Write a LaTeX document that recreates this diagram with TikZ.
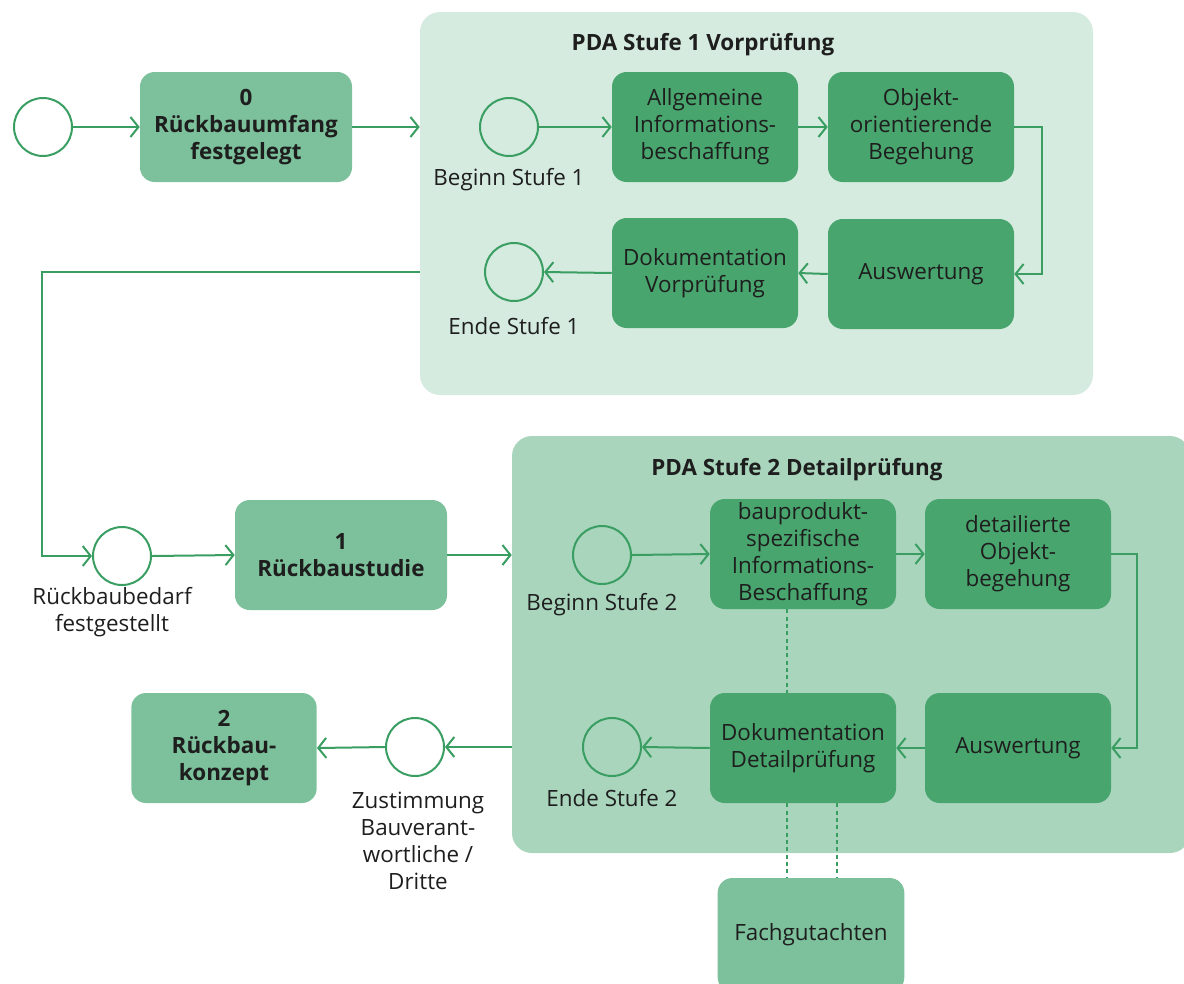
\documentclass[tikz,border=0pt]{standalone}
\usepackage{fontspec}
\setmainfont{Open Sans}
\usetikzlibrary{arrows.meta,positioning}

\definecolor{linegreen}{HTML}{3A9E62}
\definecolor{boxlight}{HTML}{7CC19B}
\definecolor{boxdark}{HTML}{48A56D}
\definecolor{poolone}{HTML}{D5EBDF}
\definecolor{pooltwo}{HTML}{A8D5BC}
\definecolor{inktext}{HTML}{1E1E1E}

\begin{document}
\begin{tikzpicture}[
            x=0.75pt, y=-0.75pt,
            every node/.style={
                text=inktext,
                font=\fontsize{16.8}{20.3}\selectfont
            },
            phase/.style={
                rectangle,
                fill=boxlight,
                rounded corners=11pt,
                minimum width=159pt,
                minimum height=82.5pt,
                align=center,
                font=\fontsize{16.8}{20.3}\selectfont\bfseries
            },
            task/.style={
                rectangle,
                fill=boxdark,
                rounded corners=11pt,
                minimum width=139.5pt,
                minimum height=82.5pt,
                inner sep=1pt,
                align=center
            },
            pool/.style={
                rectangle,
                rounded corners=15pt,
                inner sep=0pt
            },
            event/.style={
                circle,
                draw=linegreen,
                line width=1.5pt,
                minimum size=43.5pt,
                inner sep=0pt
            },
            note/.style={
                align=center
            },
            title/.style={
                font=\fontsize{16.8}{20.3}\selectfont\bfseries
            },
            flow/.style={
                draw=linegreen,
                line width=1.5pt,
                -{Straight Barb[length=6pt,width=15pt,line width=1.5pt]}
            },
            link/.style={
                draw=linegreen,
                line width=1.5pt,
                dash pattern=on 3pt off 2.5pt
            }
        ]
        \useasboundingbox (0,0) rectangle (1184,983);

        % pools
        \node[pool, fill=poolone, minimum width=504.75pt, minimum height=287.25pt] (p1) at (756.5,203.5) {};
        \node[pool, fill=pooltwo, minimum width=508.5pt, minimum height=312.75pt] (p2) at (851,644.5) {};
        \node[title] (t1) at (703,45) {PDA Stufe 1 Vorprüfung};
        \node[title] (t2) at (797,470) {PDA Stufe 2 Detailprüfung};

        % main phases
        \node[event] (start) at (43,127) {};
        \node[phase] (b0) at (246,127) {0\\Rückbauumfang\\festgelegt};
        \node[event] (r1) at (122,556) {};
        \node[note] (r1l) at (112,612) {Rückbaubedarf\\festgestellt};
        \node[phase] (b1) at (341,555) {1\\Rückbaustudie};
        \node[event] (z) at (415,747) {};
        \node[note] (zl) at (418,841) {Zustimmung\\Bauverant-\\wortliche /\\Dritte};
        \node[phase, minimum width=139pt] (b2) at (224,748) {2\\Rückbau-\\konzept};
        \node[phase, font=\fontsize{16.8}{20.3}\selectfont, minimum width=140pt, minimum height=85.5pt] (fg) at (811,935) {Fachgutachten};

        % stage 1
        \node[event] (s1) at (509,127) {};
        \node[note] (s1l) at (509,180) {Beginn Stufe 1};
        \node[task] (ai) at (705,127) {Allgemeine\\Informations-\\beschaffung};
        \node[task] (ob) at (921,127) {Objekt-\\orientierende\\Begehung};
        \node[task] (aw1) at (921,274) {Auswertung};
        \node[task] (dv) at (705,273) {Dokumentation\\Vorprüfung};
        \node[event] (e1) at (514,272) {};
        \node[note] (e1l) at (514,326) {Ende Stufe 1};

        % stage 2
        \node[event] (s2) at (602,555) {};
        \node[note] (s2l) at (602,605) {Beginn Stufe 2};
        \node[task] (bi) at (803,554) {bauprodukt-\\spezifische\\Informations-\\Beschaffung};
        \node[task] (db) at (1018,554) {detailierte\\Objekt-\\begehung};
        \node[task] (aw2) at (1018,748) {Auswertung};
        \node[task] (dd) at (803,748) {Dokumentation\\Detailprüfung};
        \node[event] (e2) at (612,747) {};
        \node[note] (e2l) at (612,798) {Ende Stufe 2};

        % lines
        \coordinate (knee) at (42,556);
        \draw[flow] (start.east) -- (b0.west);
        \draw[flow] (b0.east) -- (b0.east -| p1.west);
        \draw[flow] (s1.east) -- (ai.west);
        \draw[flow] (ai.east) -- (ob.west);
        \draw[flow] (ob.east) -- ++(28,0) |- (aw1.east);
        \draw[flow] (aw1.west) -- (dv.east);
        \draw[flow] (dv.west) -- (e1.east);
        \draw[flow] (p1.west |- e1) -| (knee) -- (r1.west);
        \draw[flow] (r1.east) -- (b1.west);
        \draw[flow] (b1.east) -- (b1.east -| p2.west);
        \draw[flow] (s2.east) -- (bi.west);
        \draw[flow] (bi.east) -- (db.west);
        \draw[flow] (db.east) -- ++(26,0) |- (aw2.east);
        \draw[flow] (aw2.west) -- (dd.east);
        \draw[flow] (dd.west) -- (e2.east);
        \draw[flow] (p2.west |- z) -- (z.east);
        \draw[flow] (z.west) -- (b2.east);

        % dotted links
        \draw[link] ([xshift=-12pt]bi.south) -- ([xshift=-12pt]dd.north);
        \draw[link] ([xshift=-12pt]dd.south) -- ([xshift=-12pt]dd.south |- fg.north);
        \draw[link] ([xshift=25.5pt]dd.south) -- ([xshift=25.5pt]dd.south |- fg.north);
    \end{tikzpicture}
\end{document}
